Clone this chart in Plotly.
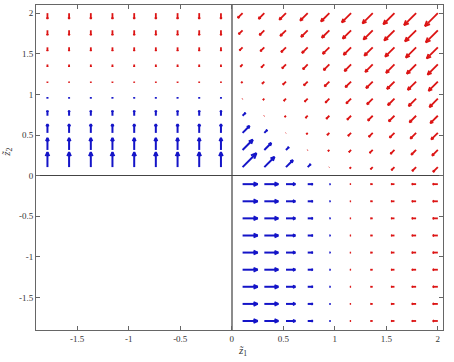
import plotly.graph_objects as go
import plotly.figure_factory as ff

# grid positions
pos_grid = [0.105, 0.316, 0.526, 0.737, 0.947, 1.158, 1.368, 1.579, 1.789, 2.0]
neg_grid = [-1.789, -1.579, -1.368, -1.158, -0.947, -0.737, -0.526, -0.316, -0.105]

# quadrant x<0, y>0 : vertical arrows, one v per row (rows = pos_grid)
left_v = [0.185, 0.148, 0.108, 0.062, 0.016, -0.012, -0.028, -0.045, -0.060, -0.072]

# quadrant x>0, y<0 : horizontal arrows, one u per column (cols = pos_grid)
bottom_u = [0.185, 0.172, 0.115, 0.062, 0.012, -0.012, -0.025, -0.040, -0.052, -0.062]

# quadrant x>0, y>0 : diagonal arrows (u = v = value); rows = pos_grid (y), cols = pos_grid (x)
top_right = [
    [0.170, 0.125, 0.085, 0.035, -0.004, -0.015, -0.026, -0.037, -0.048, -0.059],
    [0.125, 0.085, 0.035, -0.004, -0.015, -0.026, -0.037, -0.048, -0.059, -0.070],
    [0.085, 0.035, -0.004, -0.015, -0.026, -0.037, -0.048, -0.059, -0.070, -0.081],
    [0.035, -0.004, -0.015, -0.026, -0.037, -0.048, -0.059, -0.070, -0.081, -0.092],
    [-0.004, -0.015, -0.026, -0.037, -0.048, -0.059, -0.070, -0.081, -0.092, -0.103],
    [-0.015, -0.026, -0.037, -0.048, -0.059, -0.070, -0.081, -0.092, -0.103, -0.114],
    [-0.026, -0.037, -0.048, -0.059, -0.070, -0.081, -0.092, -0.103, -0.114, -0.126],
    [-0.037, -0.048, -0.059, -0.070, -0.081, -0.092, -0.103, -0.114, -0.126, -0.137],
    [-0.048, -0.059, -0.070, -0.081, -0.092, -0.103, -0.114, -0.126, -0.137, -0.148],
    [-0.059, -0.070, -0.081, -0.092, -0.103, -0.114, -0.126, -0.137, -0.148, -0.159],
]

tick_vals = [-1.5, -1, -0.5, 0, 0.5, 1, 1.5, 2]
tick_text = ["-1.5", "-1", "-0.5", "0", "0.5", "1", "1.5", "2"]

BLUE = "#1414c8"
RED = "#dc1414"

blue = {"x": [], "y": [], "u": [], "v": []}
red = {"x": [], "y": [], "u": [], "v": []}


def add(x, y, u, v, positive):
    d = blue if positive else red
    d["x"].append(x)
    d["y"].append(y)
    d["u"].append(u)
    d["v"].append(v)


for yi, vv in zip(pos_grid, left_v):
    for xi in neg_grid:
        add(xi, yi, 0.0, vv, vv > 0)

for xi, uu in zip(pos_grid, bottom_u):
    for yi in neg_grid:
        add(xi, yi, uu, 0.0, uu > 0)

for yi, row in zip(pos_grid, top_right):
    for xi, m in zip(pos_grid, row):
        add(xi, yi, m, m, m > 0)

ratio = 81.25 / 103.0

fig = go.Figure()
for d, col, w in ((red, RED, 1.8), (blue, BLUE, 2.0)):
    q = ff.create_quiver(d["x"], d["y"], d["u"], d["v"], scale=1,
                         arrow_scale=0.3, angle=0.42, scaleratio=ratio,
                         line=dict(color=col, width=w), hoverinfo="skip",
                         showlegend=False)
    fig.add_traces(q.data)

tick_font = dict(family="Liberation Serif, DejaVu Serif, serif", size=9, color="#333333")
axis_common = dict(
    showgrid=False, showline=True, linecolor="#666666", linewidth=1,
    mirror="ticks", ticks="inside", ticklen=4, tickcolor="#666666",
    tickvals=tick_vals, ticktext=tick_text, tickfont=tick_font,
)
fig.update_layout(
    width=454, height=362,
    margin=dict(l=36, r=11, t=5, b=32),
    paper_bgcolor="white", plot_bgcolor="white",
    showlegend=False,
    xaxis=dict(range=[-1.9, 2.05], zeroline=True, zerolinecolor="#8c8c8c",
               zerolinewidth=2, **axis_common),
    yaxis=dict(range=[-1.9, 2.1], zeroline=True, zerolinecolor="#444444",
               zerolinewidth=1, **axis_common),
    annotations=[
        dict(text="<i>z̃</i><sub>1</sub>", xref="paper", yref="paper",
             x=(242 - 36) / 407, y=-0.065, showarrow=False,
             font=dict(family="Liberation Serif, DejaVu Serif, serif", size=11, color="#333333"),
             xanchor="center", yanchor="middle"),
        dict(text="<i>z̃</i><sub>2</sub>", xref="paper", yref="paper",
             x=-0.072, y=(330 - 152) / 325, showarrow=False, textangle=-90,
             font=dict(family="Liberation Serif, DejaVu Serif, serif", size=11, color="#333333"),
             xanchor="center", yanchor="middle"),
    ],
)

fig.write_html("out.html", config={"displayModeBar": False},
               post_script="document.body.style.margin='0';")
